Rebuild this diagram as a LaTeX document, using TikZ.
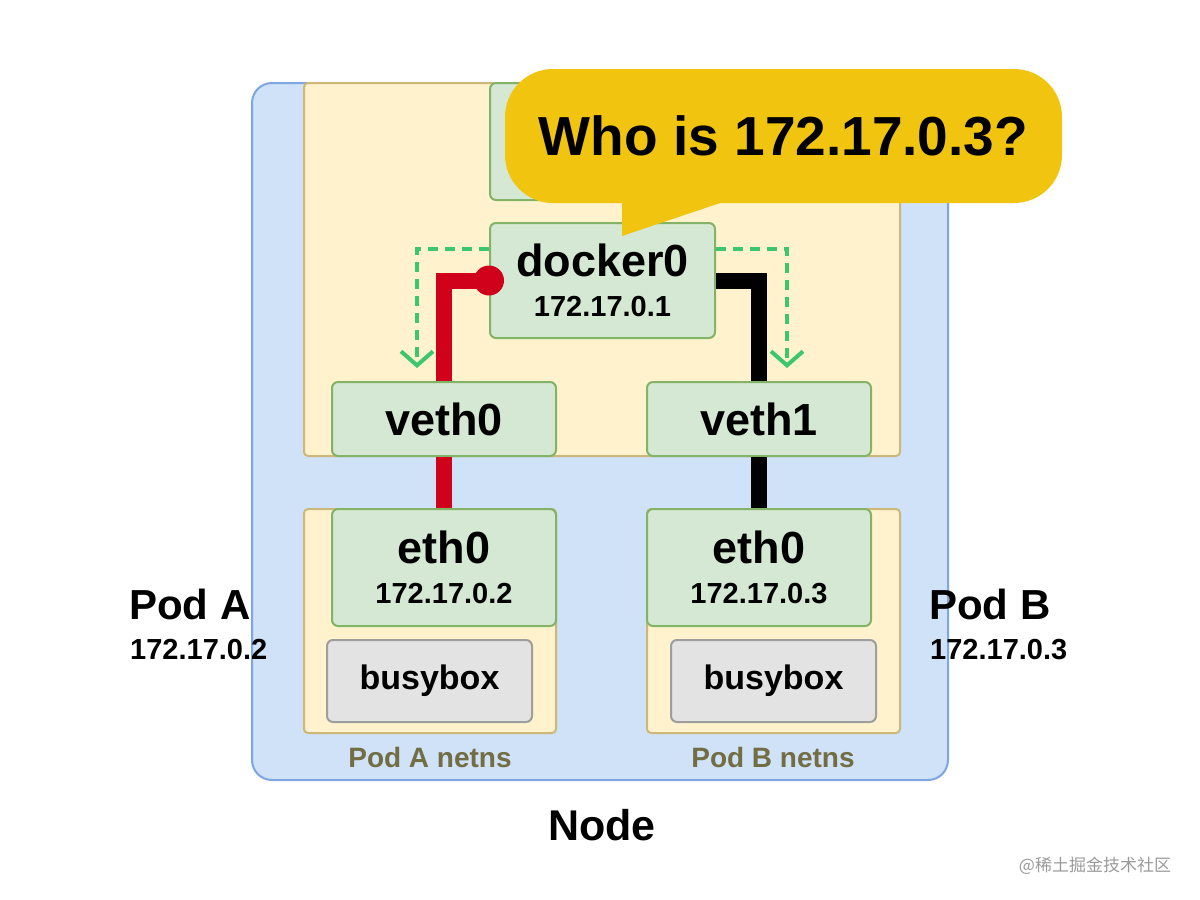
\documentclass[tikz,border=0pt]{standalone}
\usepackage{fontspec}
\setmainfont{Liberation Sans}
\newfontfamily\cjkfont{Noto Sans CJK SC}
\usetikzlibrary{arrows.meta}
\definecolor{nodefill}{HTML}{CFE2F7}
\definecolor{nodeline}{HTML}{7EA6E0}
\definecolor{nsfill}{HTML}{FFF2CC}
\definecolor{nsline}{HTML}{CDB87A}
\definecolor{iffill}{HTML}{D5E8D4}
\definecolor{ifline}{HTML}{82B366}
\definecolor{boxfill}{HTML}{E3E3E3}
\definecolor{boxline}{HTML}{9E9E9E}
\definecolor{nstext}{HTML}{736D43}
\definecolor{wirered}{HTML}{D0021B}
\definecolor{arpgreen}{HTML}{3CC66E}
\definecolor{bubblecol}{HTML}{F1C40F}
\definecolor{marktext}{HTML}{9A9A9A}
\newcommand{\setsize}[1]{\fontsize{#1}{40}\selectfont}
\begin{document}
\begin{tikzpicture}[
 x=1pt, y=-1pt,
 font=\bfseries,
 >={Straight Barb[length=14pt,width=32pt]},
 align=center,
 inner sep=0pt,
 nodebox/.style={draw=nodeline,fill=nodefill,line width=2pt,rounded corners=20pt,minimum width=696pt,minimum height=697pt},
 netns/.style={draw=nsline,fill=nsfill,line width=2pt,rounded corners=4pt},
 iface/.style={draw=ifline,fill=iffill,line width=2pt,rounded corners=6pt,minimum width=224pt},
 twoline/.style={font=\bfseries\setsize{29}},
 container/.style={draw=boxline,fill=boxfill,line width=2pt,rounded corners=6pt,minimum width=205pt,minimum height=82pt},
 nslabel/.style={text=nstext,anchor=base},
 wire/.style={line width=16pt},
 arp/.style={draw=arpgreen,line width=4pt,dash pattern=on 10pt off 7pt,->},
 bubble/.style={fill=bubblecol,rounded corners=48pt,minimum width=557pt,minimum height=134pt}
]
\useasboundingbox (0,0) rectangle (1200,900);
\node (node-box) [nodebox] at (600,431.5) {};
\node (host-ns) [netns,minimum width=596pt,minimum height=373pt] at (602,269.5) {};
\node (host-if) [iface,minimum height=117pt] at (602,141.5) {};
\node (docker0) [iface,twoline,minimum width=225pt,minimum height=115pt] at (602.5,280.5) {{\setsize{45}docker0}\\172.17.0.1};
\node (veth0) [iface,minimum height=74pt] at (444,419) {\setsize{45}veth0};
\node (veth1) [iface,minimum height=74pt] at (759,419) {\setsize{45}veth1};
\node (poda-ns) [netns,minimum width=252pt,minimum height=224pt] at (430,621) {};
\node (podb-ns) [netns,minimum width=253pt,minimum height=224pt] at (773.5,621) {};
\node (eth0a) [iface,twoline,minimum height=117pt] at (444,567.5) {{\setsize{45}eth0}\\172.17.0.2};
\node (eth0b) [iface,twoline,minimum height=117pt] at (759,567.5) {{\setsize{45}eth0}\\172.17.0.3};
\node (busyboxa) [container] at (429.5,681) {\setsize{34}busybox};
\node (busyboxb) [container] at (773.5,681) {\setsize{34}busybox};
\node (poda-netns) [nslabel] at (430,767) {\setsize{28}Pod A netns};
\node (podb-netns) [nslabel] at (773,767) {\setsize{28}Pod B netns};
\node (poda-name) [anchor=base west] at (129,619) {\setsize{42}Pod A};
\node (poda-ip) [anchor=base west] at (130,659) {\setsize{29}172.17.0.2};
\node (podb-name) [anchor=base west] at (929,619) {\setsize{42}Pod B};
\node (podb-ip) [anchor=base west] at (930,659) {\setsize{29}172.17.0.3};
\node (node-name) [anchor=base] at (602,840) {\setsize{43}Node};
\node (mark) [text=marktext,font=\mdseries\cjkfont] at (1095,866) {\setsize{17}@稀土掘金技术社区};
\coordinate (arp-a) at (417,368);
\coordinate (arp-b) at (787,368);
\draw[wire,wirered] (docker0.west) -| (veth0.north);
\draw[wire,wirered] (veth0.south) -- (eth0a.north);
\fill[wirered] (docker0.west) circle (15pt);
\draw[wire,black] (docker0.east) -| (veth1.north);
\draw[wire,black] (veth1.south) -- (eth0b.north);
\draw[arp] ([yshift=-27pt]docker0.north west) -| (arp-a);
\draw[arp] ([yshift=-27pt]docker0.north east) -| (arp-b);
\node (who-bubble) [bubble] at (783.5,136) {\setsize{55}Who is 172.17.0.3?};
\fill[bubblecol] (622,198) -- (622,236) -- (735,198) -- cycle;
\end{tikzpicture}
\end{document}
